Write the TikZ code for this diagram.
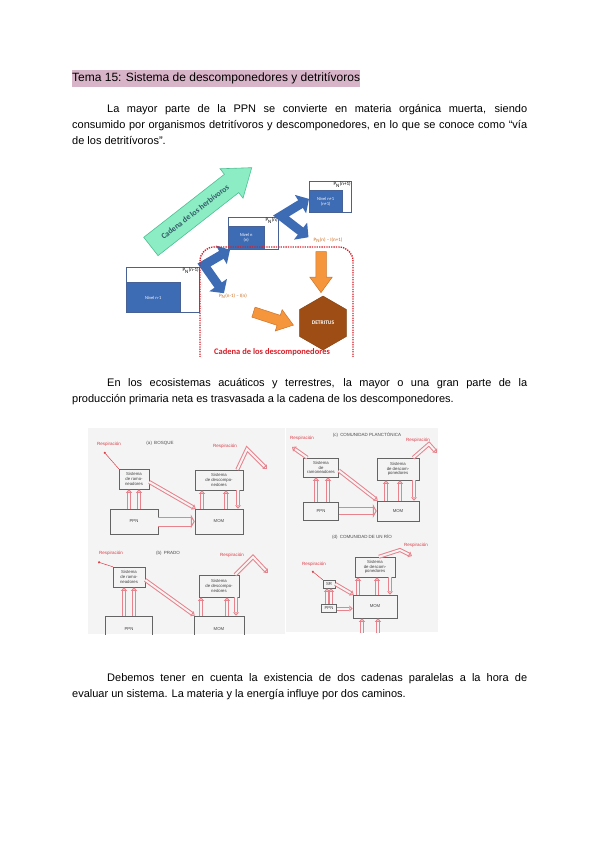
\documentclass[tikz,border=0pt]{standalone}
\usepackage{fontspec}
\setmainfont{Liberation Sans}
\newfontfamily\calfont{Carlito}
\usetikzlibrary{shapes.geometric, shapes.arrows, arrows.meta, positioning, calc}
\definecolor{tpink}{RGB}{216,180,200}
\definecolor{nblue}{RGB}{62,108,180}
\definecolor{nedge}{RGB}{72,98,150}
\definecolor{hgreen}{RGB}{140,236,196}
\definecolor{hgreenedge}{RGB}{76,192,146}
\definecolor{htext}{RGB}{52,92,104}
\definecolor{dorange}{RGB}{245,150,60}
\definecolor{dorangeedge}{RGB}{205,115,45}
\definecolor{dlabel}{RGB}{200,104,24}
\definecolor{dbrown}{RGB}{158,78,20}
\definecolor{dred}{RGB}{214,30,40}
\definecolor{sred}{RGB}{232,130,140}
\definecolor{sresp}{RGB}{220,60,70}
\definecolor{sgray}{RGB}{100,100,100}
\definecolor{sbg}{RGB}{244,244,244}

\begin{document}
\begin{tikzpicture}[x=1pt,y=-1pt,
  bodytext/.style={anchor=base west,inner sep=0pt,text width=455pt,align=justify,
    font=\fontsize{11}{16}\selectfont},
  outbox/.style={draw=nedge,line width=0.8pt,fill=white,anchor=north west,inner sep=0pt},
  inbox/.style={draw=nedge,fill=nblue,text=white,anchor=south west,inner sep=0pt,
    align=center,font=\calfont\fontsize{4.5}{5}\selectfont},
  pnlabel/.style={anchor=north east,inner sep=1pt,font=\calfont\fontsize{5}{5}\selectfont},
  olabel/.style={inner sep=0pt,text=dlabel,font=\calfont\fontsize{5}{5}\selectfont},
  elbow/.style={draw=nblue,line width=9pt,line join=miter,
    {Triangle[length=10pt,width=21pt]}-{Triangle[length=10pt,width=21pt]}},
  herbarrow/.style={single arrow,fill=hgreen,draw=hgreenedge,line width=0.6pt,text=htext,
    font=\calfont\bfseries\fontsize{8}{8}\selectfont,minimum height=128pt,
    inner ysep=8.5pt,inner xsep=2pt,single arrow head extend=7pt,single arrow tip angle=72},
  orarrow/.style={single arrow,fill=dorange,draw=dorangeedge,line width=0.5pt,
    inner xsep=0pt,inner ysep=5pt,single arrow head extend=6pt,single arrow tip angle=72},
  detbox/.style={regular polygon,regular polygon sides=6,shape border rotate=30,
    minimum size=54pt,inner sep=0pt,fill=dbrown,draw=dbrown!80!black,text=white,
    font=\calfont\bfseries\fontsize{5.5}{6}\selectfont},
  scanbox/.style={draw=sgray,line width=0.5pt,inner sep=0.5pt,align=center,text=black!75,
    font=\fontsize{4.3}{4.8}\selectfont},
  resp/.style={text=sresp,inner sep=0pt,font=\fontsize{4.5}{5}\selectfont},
  paneltitle/.style={text=black!70,inner sep=0pt,font=\fontsize{4.5}{5}\selectfont},
  hollow/.style={draw=sred,line width=1pt,double=sbg,double distance=2pt,
    -{Triangle[open,length=3.5pt,width=6pt]}},
  wide/.style={hollow,double distance=8pt,-{Triangle[open,length=4pt,width=14pt]}},
  thinresp/.style={draw=sresp,line width=0.5pt,-{Circle[length=2.2pt]}}]

\useasboundingbox (0,0) rectangle (600,848);

% texto
\node[anchor=base west,fill=tpink,inner sep=0pt,text height=11.5pt,text depth=5.5pt,
  font=\fontsize{12}{16}\selectfont] (tit) at (72,81.5)
  {Tema 15: Sistema de descomponedores y detritívoros};
\node[bodytext] (p1) at (72,112.5) {\tolerance=10000\hyphenpenalty=10000
  \hspace*{35pt}La mayor parte de la PPN se convierte en materia orgánica muerta, siendo\linebreak
  consumido por organismos detritívoros y descomponedores, en lo que se conoce como “vía\linebreak
  de los detritívoros”.};
\node[bodytext] (p2) at (72,386.5) {\tolerance=10000\hyphenpenalty=10000
  \hspace*{35pt}En los ecosistemas acuáticos y terrestres, la mayor o una gran parte de la\linebreak
  producción primaria neta es trasvasada a la cadena de los descomponedores.};
\node[bodytext] (p3) at (72,681.5) {\tolerance=10000\hyphenpenalty=10000
  \hspace*{35pt}Debemos tener en cuenta la existencia de dos cadenas paralelas a la hora de\linebreak
  evaluar un sistema. La materia y la energía influye por dos caminos.};

% cadenas
\begin{scope}
  \clip (118,163) rectangle (362,356);
  \node[herbarrow,rotate=38] (herbv) at (195,212) {Cadena de los herbívoros};

  \node[outbox,minimum width=73pt,minimum height=45pt] (nv1o) at (126,267) {};
  \node[inbox,minimum width=54pt,minimum height=30pt] (nv1i) at (nv1o.south west) {Nivel n-1};
  \node[pnlabel] (nv1p) at (nv1o.north east) {P\textsubscript{N}(n-1)};

  \node[outbox,minimum width=50pt,minimum height=32pt] (nv2o) at (228,217) {};
  \node[inbox,minimum width=36pt,minimum height=23pt] (nv2i) at (nv2o.south west) {Nivel n\\(n)};
  \node[pnlabel] (nv2p) at (nv2o.north east) {P\textsubscript{N}(n)};

  \node[outbox,minimum width=42pt,minimum height=31pt] (nv3o) at (309,181) {};
  \node[inbox,minimum width=33pt,minimum height=22pt] (nv3i) at (nv3o.south west) {Nivel n+1\\(n+1)};
  \node[pnlabel] (nv3p) at (nv3o.north east) {P\textsubscript{N}(n+1)};

  \node[olabel] (pl1) at (233,296) {P\textsubscript{N}(n-1) – I(n)};
  \node[olabel] (pl2) at (328,240) {P\textsubscript{N}(n) – I(n+1)};

  \coordinate (ea) at (204,265);
  \coordinate (eb) at (281,216);
  \draw[elbow] ([xshift=2pt]nv2o.south west) -- (ea) -- ([xshift=5pt]pl1.north west);
  \draw[elbow] ([yshift=-2pt]nv3o.west) -- (eb) -- ([xshift=-5pt]pl2.north west);

  \node[detbox] (detr) at (323,323) {DETRITUS};
  \node[orarrow,rotate=-90,minimum height=41pt] (odown) at (321,268.5) {};
  \node[orarrow,rotate=-18,minimum height=42pt] (oright) at (270,317.5) {};

  \draw[dred,line width=1.4pt,dash pattern=on 1.3pt off 1.1pt,rounded corners=14pt]
    (200,362) -- (200,247) -- (353,247) -- (353,362);
  \node[inner sep=0pt,text=dred,font=\calfont\bfseries\fontsize{8.5}{9}\selectfont]
    (cdesc) at (272,352) {Cadena de los descomponedores};
\end{scope}

% figura escaneada: bosque y prado
\begin{scope}
  \clip (88,428) rectangle (285,634);
  \fill[sbg] (88,428) rectangle (285,634);
  \node[paneltitle] (ta) at (160,443) {(a)\enspace BOSQUE};
  \node[resp] (ra1) at (109,444) {Respiración};
  \node[resp] (ra2) at (225,446) {Respiración};
  \node[scanbox,minimum width=30pt,minimum height=20pt] (ha) at (134,479) {Sistema\\de ramo-\\neadores};
  \node[scanbox,minimum width=48pt,minimum height=20pt] (da) at (219,480) {Sistema\\de descompo-\\nedores};
  \node[scanbox,minimum width=48pt,minimum height=25pt] (pa) at (134,521.5) {PPN};
  \node[scanbox,minimum width=48pt,minimum height=25pt] (ma) at (219,521.5) {MOM};
  \coordinate (ra1d) at (104,452);
  \coordinate (aa1) at (247,449);
  \coordinate (aa2) at (267,469);
  \draw[thinresp] (ha.north west) -- (ra1d);
  \draw[hollow] ([xshift=-5pt]pa.north) -- ([xshift=-5pt]ha.south);
  \draw[hollow] ([xshift=5pt]pa.north) -- ([xshift=5pt]ha.south);
  \draw[hollow] ([yshift=-3pt]ha.east) -- ([xshift=1pt]ma.north west);
  \draw[wide] (pa.east) -- (pa.east -| ma.west);
  \draw[hollow] ([xshift=-17pt]ma.north) -- ([xshift=-17pt]da.south);
  \draw[hollow] ([xshift=7pt]ma.north) -- ([xshift=7pt]da.south);
  \draw[hollow] ([xshift=19pt]da.south) -- ([xshift=19pt]ma.north);
  \draw[hollow] ([xshift=-6pt]da.north east) -- (aa1) -- (aa2);

  \node[paneltitle] (tb) at (168,553) {(b)\enspace PRADO};
  \node[resp] (rb1) at (111,553) {Respiración};
  \node[resp] (rb2) at (232,555) {Respiración};
  \node[scanbox,minimum width=32pt,minimum height=20pt] (hb) at (129,577) {Sistema\\de ramo-\\neadores};
  \node[scanbox,minimum width=40pt,minimum height=22pt] (db) at (219,586) {Sistema\\de descompo-\\nedores};
  \node[scanbox,minimum width=47pt,minimum height=26pt] (pb) at (129,629) {PPN};
  \node[scanbox,minimum width=50pt,minimum height=26pt] (mb) at (219,629) {MOM};
  \coordinate (rb1d) at (98,562);
  \coordinate (ab1) at (253,557);
  \coordinate (ab2) at (268,573);
  \draw[thinresp] (hb.north west) -- (rb1d);
  \draw[hollow] ([xshift=-5pt]pb.north) -- ([xshift=-5pt]hb.south);
  \draw[hollow] ([xshift=5pt]pb.north) -- ([xshift=5pt]hb.south);
  \draw[hollow] ([yshift=-3pt]hb.east) -- ([xshift=1pt]mb.north west);
  \draw[hollow] ([xshift=-18pt]mb.north) -- ([xshift=-18pt]db.south);
  \draw[hollow] ([xshift=8pt]mb.north) -- ([xshift=8pt]db.south);
  \draw[hollow] ([xshift=17pt]db.south) -- ([xshift=17pt]mb.north);
  \draw[hollow] ([xshift=-4pt]db.north east) -- (ab1) -- (ab2);
\end{scope}

% figura escaneada: plancton y rio
\begin{scope}
  \clip (286,428) rectangle (438,632);
  \fill[sbg] (286,428) rectangle (438,632);
  \node[paneltitle] (tc) at (367,435) {(c)\enspace COMUNIDAD PLANCTÓNICA};
  \node[resp] (rc1) at (302,438) {Respiración};
  \node[resp] (rc2) at (418,440) {Respiración};
  \node[scanbox,minimum width=35pt,minimum height=19pt] (hc) at (321,467.5) {Sistema\\de\\ramoneadores};
  \node[scanbox,minimum width=42pt,minimum height=22pt] (dc) at (398,469) {Sistema\\de descom-\\ponedores};
  \node[scanbox,minimum width=35pt,minimum height=18pt] (pc) at (321,511) {PPN};
  \node[scanbox,minimum width=42pt,minimum height=20pt] (mc) at (398,511) {MOM};
  \coordinate (cc1) at (292,447);
  \coordinate (cc2) at (429,444);
  \coordinate (cc3) at (437,453);
  \draw[hollow] ([xshift=4pt]hc.north west) -- (cc1);
  \draw[hollow] ([xshift=-6pt]dc.north east) -- (cc2) -- (cc3);
  \draw[hollow] ([xshift=-5pt]pc.north) -- ([xshift=-5pt]hc.south);
  \draw[hollow] ([xshift=7pt]pc.north) -- ([xshift=7pt]hc.south);
  \draw[hollow] ([yshift=-3pt]hc.east) -- ([xshift=1pt]mc.north west);
  \draw[wide,double distance=6pt] (pc.east) -- (pc.east -| mc.west);
  \draw[hollow] ([xshift=-12pt]mc.north) -- ([xshift=-12pt]dc.south);
  \draw[hollow] ([xshift=2pt]mc.north) -- ([xshift=2pt]dc.south);
  \draw[hollow] ([xshift=16pt]dc.south) -- ([xshift=16pt]mc.north);

  \node[paneltitle] (td) at (362,537) {(d)\enspace COMUNIDAD DE UN RÍO};
  \node[resp] (rd1) at (314,564) {Respiración};
  \node[resp] (rd2) at (416,545) {Respiración};
  \node[scanbox,minimum width=40pt,minimum height=20pt] (dd) at (375,567) {Sistema\\de descom-\\ponedores};
  \node[scanbox,minimum width=12pt,minimum height=8pt] (sd) at (329,584) {SR};
  \node[scanbox,minimum width=15pt,minimum height=8pt,line width=0.7pt] (pd) at (329,608.5) {PPN};
  \node[scanbox,minimum width=44pt,minimum height=23pt] (md) at (375,606.5) {MOM};
  \coordinate (rd1d) at (312,571);
  \coordinate (cd1) at (400,550);
  \coordinate (cd2) at (412,556);
  \coordinate (cd3) at (362,640);
  \coordinate (cd4) at (378,640);
  \draw[thinresp] (sd.north west) -- (rd1d);
  \draw[hollow] ([xshift=4pt]dd.north) -- (cd1) -- (cd2);
  \draw[hollow] ([xshift=-2pt]pd.north) -- ([xshift=-2pt]sd.south);
  \draw[hollow] ([xshift=2pt]pd.north) -- ([xshift=2pt]sd.south);
  \draw[hollow] (sd.east) -- ([xshift=1pt]md.north west);
  \draw[hollow] (pd.east) -- (pd.east -| md.west);
  \draw[hollow] ([xshift=-17pt]md.north) -- ([xshift=-17pt]dd.south);
  \draw[hollow] ([xshift=2pt]md.north) -- ([xshift=2pt]dd.south);
  \draw[hollow] ([xshift=15pt]dd.south) -- ([xshift=15pt]md.north);
  \draw[hollow] (cd3) -- (cd3 |- md.south);
  \draw[hollow] (cd4) -- (cd4 |- md.south);
\end{scope}
\end{tikzpicture}
\end{document}
